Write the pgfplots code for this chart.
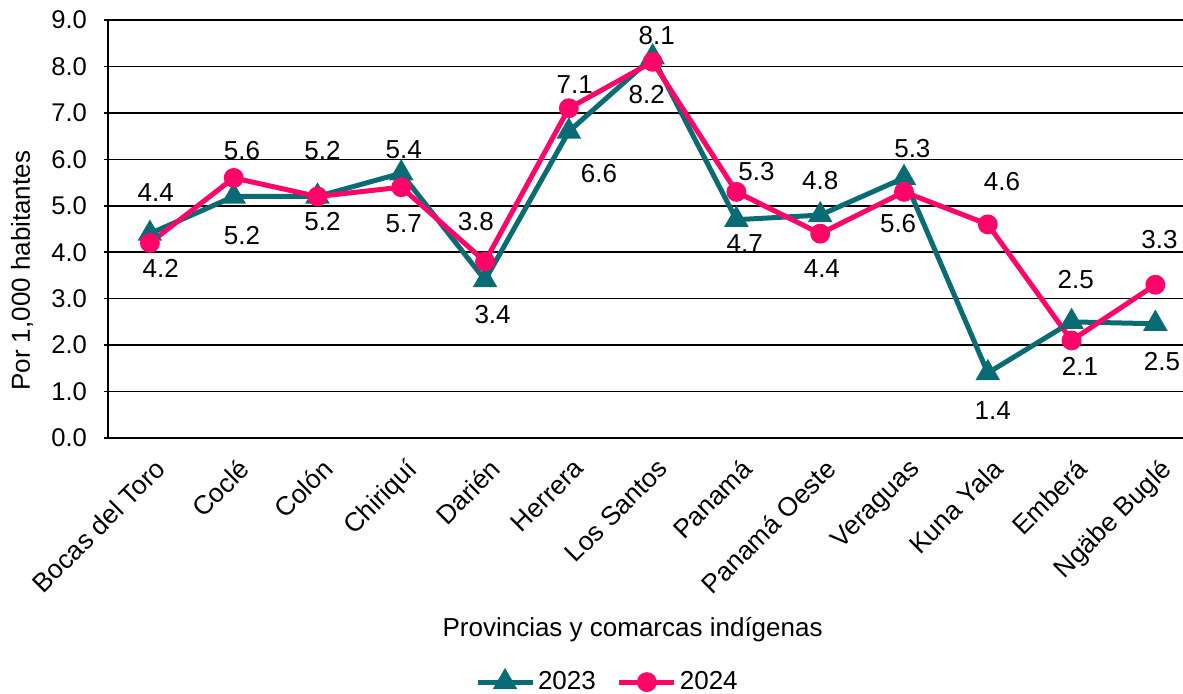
\documentclass[border=0pt]{standalone}
\usepackage{fontspec}
\setmainfont{Liberation Sans}
\usepackage{pgfplots}
\usepackage{pgfplotstable}
\pgfplotsset{compat=1.18}
\definecolor{teal23}{RGB}{9,108,117}
\definecolor{pink24}{RGB}{255,5,105}

\pgfplotstableread{
x y
0 4.4
1 5.2
2 5.2
3 5.7
4 3.4
5 6.6
6 8.2
7 4.7
8 4.8
9 5.6
10 1.4
11 2.5
12 2.46
}\dataA

\pgfplotstableread{
x y
0 4.2
1 5.6
2 5.2
3 5.4
4 3.8
5 7.1
6 8.1
7 5.3
8 4.4
9 5.3
10 4.6
11 2.1
12 3.3
}\dataB

\pgfplotstableread{
x y label
0.07 5.28 4.4
0.13 3.65 4.2
1.10 6.20 5.6
1.10 4.36 5.2
2.06 6.20 5.2
2.06 4.66 5.2
3.03 6.20 5.4
3.03 4.62 5.7
3.89 4.66 3.8
4.09 2.65 3.4
5.07 7.60 7.1
5.36 5.70 6.6
6.05 8.66 8.1
5.93 7.39 8.2
7.24 5.73 5.3
7.10 4.19 4.7
8.00 5.54 4.8
8.02 3.65 4.4
9.10 6.24 5.3
8.93 4.62 5.6
10.17 5.52 4.6
10.06 0.60 1.4
11.05 3.42 2.5
11.10 1.54 2.1
12.05 4.28 3.3
12.08 1.64 2.5
}\labels

\begin{document}
\begin{tikzpicture}
\begin{axis}[
  scale only axis, width=537.5pt, height=209pt,
  xmin=-0.5, xmax=12.33, ymin=0, ymax=9,
  axis lines=left,
  axis line style={black, line width=0.75pt, -},
  ymajorgrids, grid style={black, line width=0.75pt},
  ytick={0,1,...,9},
  yticklabel={\pgfmathprintnumber[fixed,fixed zerofill,precision=1,assume math mode=true]{\tick}},
  ytick style={black, line width=0.75pt}, tick align=outside, major tick length=2pt,
  xtick={0,...,12},
  xtick style={draw=none},
  xticklabels={Bocas del Toro, Coclé, Colón, Chiriquí, Darién, Herrera, Los Santos, Panamá, Panamá Oeste, Veraguas, Kuna Yala, Emberá, Ngäbe Buglé},
  tick label style={font=\fontsize{12.8}{15}\selectfont},
  xticklabel style={rotate=45, anchor=north east, inner sep=1pt, font=\fontsize{13.2}{15}\selectfont, xshift=-3pt, yshift=-5.5pt},
  yticklabel style={xshift=-5pt},
  xlabel={Provincias y comarcas indígenas},
  ylabel={Por 1,000 habitantes},
  label style={font=\fontsize{13}{15}\selectfont},
  xlabel style={at={(axis description cs:0.488,-0.459)}, anchor=center},
  ylabel style={at={(axis description cs:-0.080,0.40)}, anchor=center},
  legend style={at={(axis description cs:0.465,-0.584)}, anchor=center, draw=none, fill=none,
    legend columns=2, font=\fontsize{13}{15}\selectfont, inner xsep=0pt,
    /tikz/every even column/.append style={column sep=9pt},
    nodes={inner xsep=1.5pt}},
  legend image code/.code={\draw[mark repeat=2,mark phase=2,#1] plot coordinates {(0pt,0pt) (13.75pt,0pt) (27.5pt,0pt)};},
  clip=false,
]
\addplot[teal23, line width=2.5pt, mark=triangle*, mark size=4.6pt, mark options={solid}] table[x=x,y=y] {\dataA};
\addlegendentry{2023}
\addplot[pink24, line width=2.5pt, mark=*, mark size=3.7pt, mark options={solid}] table[x=x,y=y] {\dataB};
\addlegendentry{2024}
\addplot[draw=none, mark=none, forget plot, nodes near coords, point meta=explicit symbolic,
  nodes near coords style={anchor=center, black, font=\fontsize{13}{15}\selectfont}]
  table[x=x,y=y,meta=label] {\labels};
\end{axis}
\pgfresetboundingbox
\path (-54pt,-128pt) rectangle (537.5pt,219pt);
\end{tikzpicture}
\end{document}
